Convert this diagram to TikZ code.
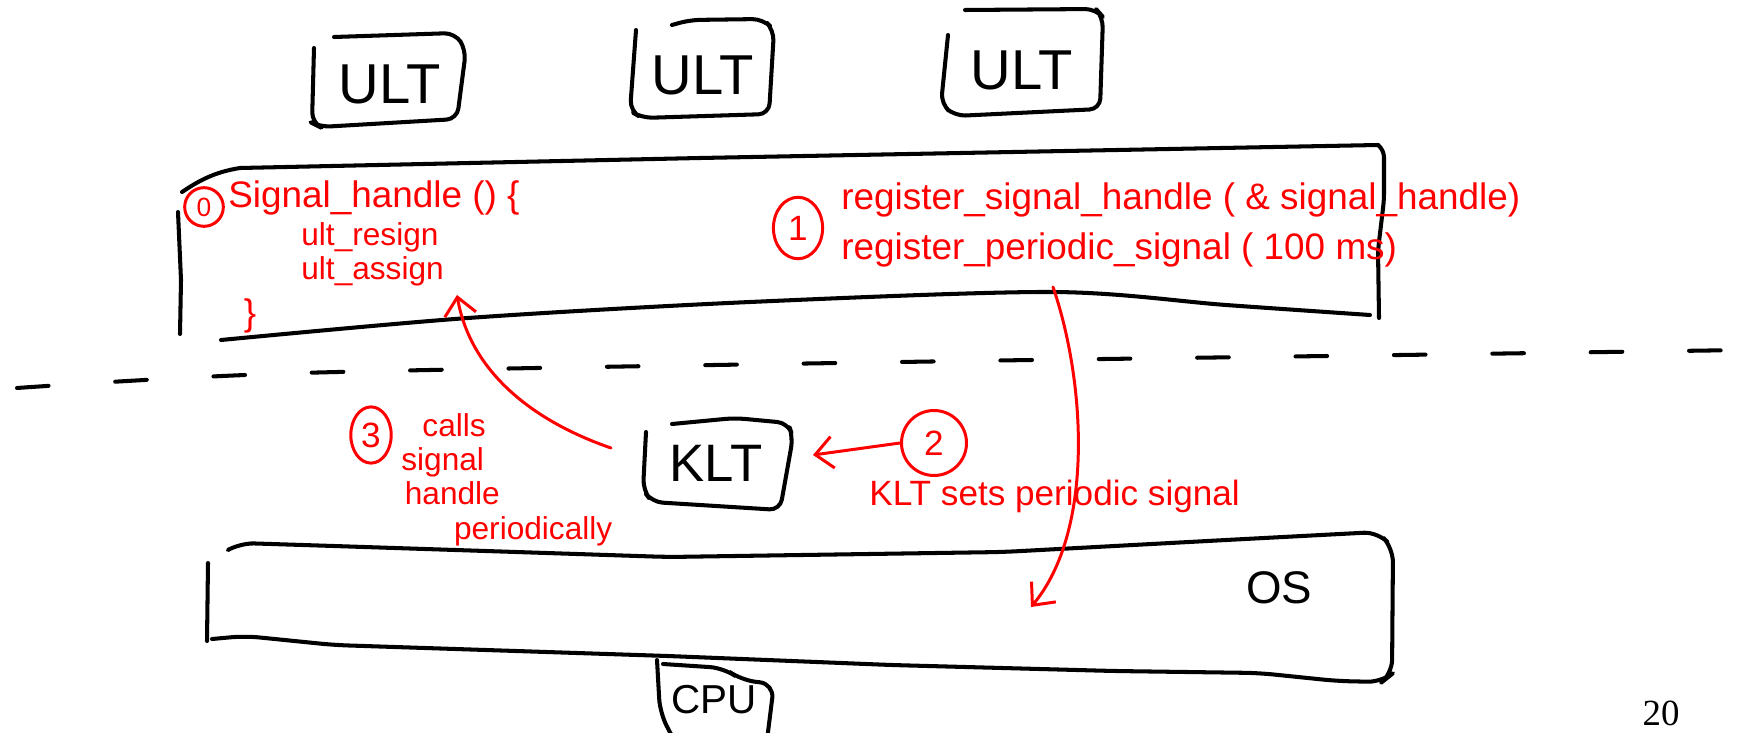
\documentclass[tikz,border=0pt]{standalone}
\usepackage{fontspec}
\setmainfont{Liberation Sans}
\newfontfamily\pagenumfont{Liberation Serif}
\usetikzlibrary{arrows.meta,shapes.geometric}
\begin{document}
\begin{tikzpicture}[x=0.02cm,y=-0.02cm,
  ink/.style={black, line width=2.3pt, line cap=round, line join=round},
  pen/.style={red, line width=1.7pt, line cap=round, line join=round},
  barb/.style={-{Straight Barb[length=10pt,width=18pt]}},
  redtxt/.style={text=red, inner sep=0pt, font=\fontsize{21}{24}\selectfont},
  redblock/.style={text=red, inner sep=0pt, align=left, font=\fontsize{18}{19.5}\selectfont},
  numcirc/.style={draw=red, line width=1.7pt, ellipse, inner sep=0pt, text=red,
                  font=\fontsize{20}{22}\selectfont},
  boxlabel/.style={inner sep=0pt, font=\fontsize{#1}{#1}\selectfont},
]
\useasboundingbox (0,0) rectangle (1747,733);

% --- user-level threads ---
\node[boxlabel=32] (ult1) at (390,84) {ULT};
\node[boxlabel=32] (ult2) at (703,75) {ULT};
\node[boxlabel=32] (ult3) at (1022,70) {ULT};
\draw[ink, rounded corners=6pt] (314,48) -- (312,123) -- (320,127) -- (457,119) -- (466,50) -- (455,33) -- (334,37);
\draw[ink, rounded corners=6pt] (636,30) -- (630,111) -- (642,118) -- (769,114) -- (774,30) -- (763,19) -- (690,20) -- (672,25);
\draw[ink, rounded corners=6pt] (948,35) -- (941,104) -- (955,116) -- (1100,109) -- (1103,17) -- (1096,9) -- (965,10);

% --- user space process box ---
\draw[ink] (182,192) .. controls (200,180) and (215,172) .. (240,168) -- (700,158) -- (1378,145);
\draw[ink, rounded corners=4pt] (1378,145) -- (1384,150) -- (1384,200) -- (1378,250) -- (1379,318);
\draw[ink] plot[smooth, tension=0.5] coordinates {(221,340) (468,318) (750,302) (1053,292) (1226,305) (1370,315)};
\draw[ink] (178,212) -- (181,280) -- (180,334);

% --- kernel boundary ---
\draw[ink, dash pattern=on 18pt off 38pt] plot[smooth, tension=0.5]
  coordinates {(17,388) (300,373) (900,362) (1400,355) (1743,350)};

% --- signal handler code ---
\node[numcirc, minimum width=22pt, minimum height=22pt, font=\fontsize{15}{15}\selectfont] (c0) at (204,207) {0};
\node[redtxt, anchor=west] (sh) at (228,198) {Signal\_handle () \{};
\node[redblock, anchor=north west] (body) at (301,222) {ult\_resign\\ult\_assign};
\node[redtxt] (cb) at (250,316) {\}};

% --- registration calls ---
\node[numcirc, minimum width=28pt, minimum height=35pt] (c1) at (798,228) {1};
\node[redtxt, anchor=west] (r1) at (841,200) {register\_signal\_handle ( \& signal\_handle)};
\node[redtxt, anchor=west] (r2) at (841,250) {register\_periodic\_signal ( 100 ms)};

% --- kernel-level thread ---
\node[boxlabel=30] (klt) at (716,463) {KLT};
\draw[ink, rounded corners=6pt] (646,432) -- (643,490) -- (652,502) -- (780,510) -- (793,437) -- (788,423) -- (735,418) -- (672,424);
\coordinate (kltE) at (813,455);

\node[numcirc, minimum width=37pt, minimum height=37pt] (c2) at (934,443) {2};
\node[redtxt, anchor=west, font=\fontsize{20}{22}\selectfont] (ks) at (869,496) {KLT sets periodic signal};

\node[numcirc, minimum width=23pt, minimum height=32pt] (c3) at (371,435) {3};
\node[redblock, anchor=north west] (calls) at (401,413)
  {\hspace*{12pt}calls\\signal\\\hspace*{2pt}handle\\\hspace*{30pt}periodically};

% --- operating system and CPU ---
\draw[ink, rounded corners=8pt] (228,550) -- (240,543) -- (334,546) -- (668,557) -- (1003,552)
  -- (1226,540) -- (1378,532) -- (1393,548) -- (1392,674) -- (1382,682) -- (1337,681)
  -- (1259,673) -- (1114,671) -- (891,665) -- (668,656) -- (334,645) -- (245,636) -- (212,639);
\draw[ink] (208,563) -- (207,641);
\node[boxlabel=26] (os) at (1279,588) {OS};

\draw[ink, rounded corners=8pt] (657,660) -- (660,713) -- (674,740);
\draw[ink, rounded corners=8pt] (663,664) -- (724,668) -- (741,680) -- (774,684) -- (767,740);
\node[boxlabel=23] (cpu) at (714,700) {CPU};

% --- arrows ---
\coordinate (a1s) at (1053,287);
\coordinate (a1e) at (1031,607);
\draw[pen, barb] (a1s) .. controls (1085,380) and (1095,530) .. (a1e);
\draw[pen, barb] (c2.west) -- (kltE);
\coordinate (a3s) at (611,448);
\coordinate (a3e) at (457,295);
\draw[pen, barb] (a3s) .. controls (530,420) and (470,370) .. (a3e);

% --- page number ---
\node[inner sep=0pt, font=\pagenumfont\fontsize{21}{21}\selectfont] (pg) at (1661,713) {20};
\end{tikzpicture}
\end{document}
